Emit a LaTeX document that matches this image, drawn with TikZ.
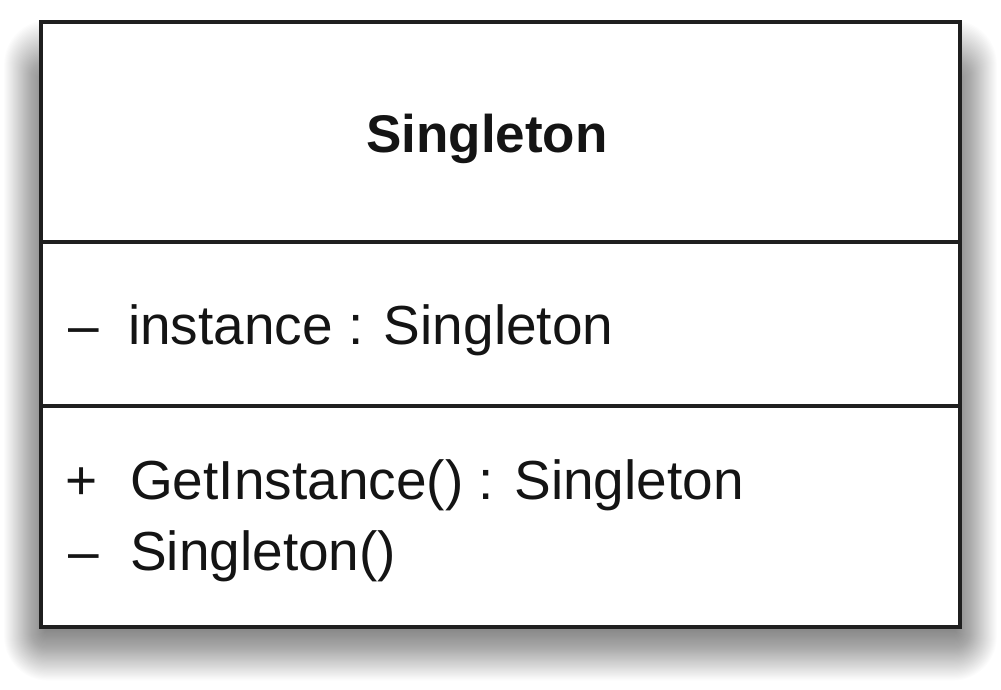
\documentclass[tikz,border=0pt]{standalone}
\usepackage{fontspec}
\setmainfont{Liberation Sans}
\begin{document}
\begin{tikzpicture}[x=1pt,y=-1pt,
  boxline/.style={line width=3.6pt, draw=black!88},
  txt/.style={inner sep=0pt, anchor=base west, font=\fontsize{55}{66}\selectfont, text=black!92},
  title/.style={inner sep=0pt, anchor=base, font=\fontsize{53}{62}\selectfont\bfseries, text=black!92}]
\useasboundingbox[fill=white] (0,0) rectangle (1001,689);
% soft shadow
\foreach \i in {1,...,44}{
  \fill[black, opacity=0.013, rounded corners=\i pt]
    (46-\i*0.95, 84-\i*1.45) rectangle (955+\i*0.95, 630+\i*1.15);
}
\node[boxline, fill=white, minimum width=919pt, minimum height=605pt, inner sep=0pt] (cls) at (500.5,324.5) {};
\coordinate (d1l) at (41,242);
\coordinate (d1r) at (960,242);
\coordinate (d2l) at (41,406);
\coordinate (d2r) at (960,406);
\draw[boxline] (d1l) -- (d1r);
\draw[boxline] (d2l) -- (d2r);
\node[title] (name) at (487,152) {Singleton};
\node[txt] (m1) at (68,344) {–};
\node[txt] (a1) at (128,344) {instance : Singleton};
\node[txt] (p1) at (65,499) {+};
\node[txt] (o1) at (130,499) {GetInstance() : Singleton};
\node[txt] (m2) at (68,570) {–};
\node[txt] (o2) at (130,570) {Singleton()};
\end{tikzpicture}
\end{document}
